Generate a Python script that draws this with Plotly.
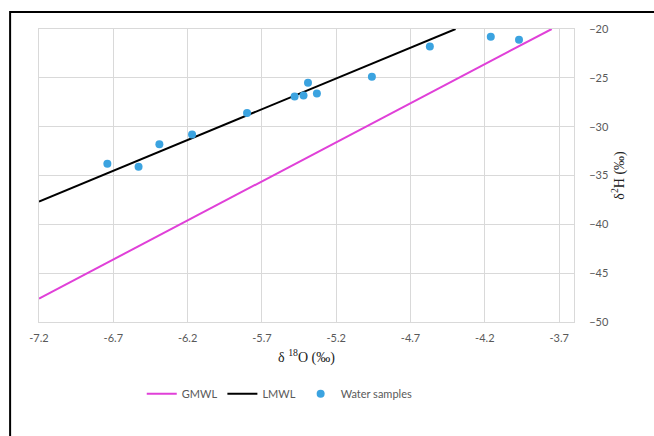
import plotly.graph_objects as go

# Water sample isotope measurements (per mil)
d18o = [-6.74, -6.53, -6.39, -6.17, -5.80, -5.48, -5.42, -5.39, -5.33, -4.96, -4.57, -4.16, -3.97]
d2h = [-33.8, -34.1, -31.8, -30.8, -28.6, -26.9, -26.8, -25.5, -26.6, -24.9, -21.8, -20.8, -21.1]

# Meteoric water lines: slope, intercept and x extent
gmwl_slope, gmwl_intercept = 8.0, 10.0
gmwl_x = [-7.2, -3.75]
lmwl_slope, lmwl_intercept = 6.3, 7.7
lmwl_x = [-7.2, -4.397]

x_ticks = [-7.2, -6.7, -6.2, -5.7, -5.2, -4.7, -4.2, -3.7]
y_ticks = [-20, -25, -30, -35, -40, -45, -50]

gmwl_y = [gmwl_slope * v + gmwl_intercept for v in gmwl_x]
lmwl_y = [lmwl_slope * v + lmwl_intercept for v in lmwl_x]

fig = go.Figure()
fig.add_trace(go.Scatter(x=gmwl_x, y=gmwl_y, mode="lines", name="GMWL",
                         line=dict(color="#e040d8", width=2)))
fig.add_trace(go.Scatter(x=lmwl_x, y=lmwl_y, mode="lines", name="LMWL",
                         line=dict(color="#000000", width=2)))
fig.add_trace(go.Scatter(x=d18o, y=d2h, mode="markers", name="Water samples",
                         marker=dict(color="#3ba3e0", size=8)))

tick_font = dict(family="Lato, Open Sans, sans-serif", size=11, color="#595959")
title_font = dict(family="Liberation Serif, Times New Roman, serif", size=14, color="#222222")

fig.update_layout(
    width=654, height=436,
    margin=dict(l=39, r=80, t=29, b=114),
    paper_bgcolor="white", plot_bgcolor="white",
    showlegend=True,
    legend=dict(orientation="h", x=0.45, xanchor="center", y=-0.245, yanchor="middle",
                font=dict(family="Lato, Open Sans, sans-serif", size=11, color="#595959"),
                itemwidth=30, tracegroupgap=0),
    xaxis=dict(range=[-7.2, -3.6], tickvals=x_ticks, ticktext=[f"{v:.1f}" for v in x_ticks],
               showgrid=True, gridcolor="#d9d9d9", gridwidth=1,
               showline=True, linecolor="#d9d9d9", mirror=True, zeroline=False,
               ticks="outside", ticklen=6, tickcolor="rgba(0,0,0,0)",
               tickfont=tick_font,
               title=dict(text="δ <sup>18</sup>O (‰)", font=title_font, standoff=8)),
    yaxis=dict(range=[-50, -20], tickvals=y_ticks, side="right",
               showgrid=True, gridcolor="#d9d9d9", gridwidth=1,
               showline=True, linecolor="#d9d9d9", mirror=True, zeroline=False,
               ticks="outside", ticklen=12, tickcolor="rgba(0,0,0,0)",
               tickfont=tick_font,
               title=dict(text="δ<sup>2</sup>H (‰)", font=title_font, standoff=6)),
)

# Outer frame around the chart
fig.add_shape(type="rect", xref="paper", yref="paper",
              x0=-0.054, x1=1.17, y0=-0.45, y1=1.058,
              line=dict(color="black", width=2), fillcolor="rgba(0,0,0,0)", layer="above")

fig.write_html("out.html")
